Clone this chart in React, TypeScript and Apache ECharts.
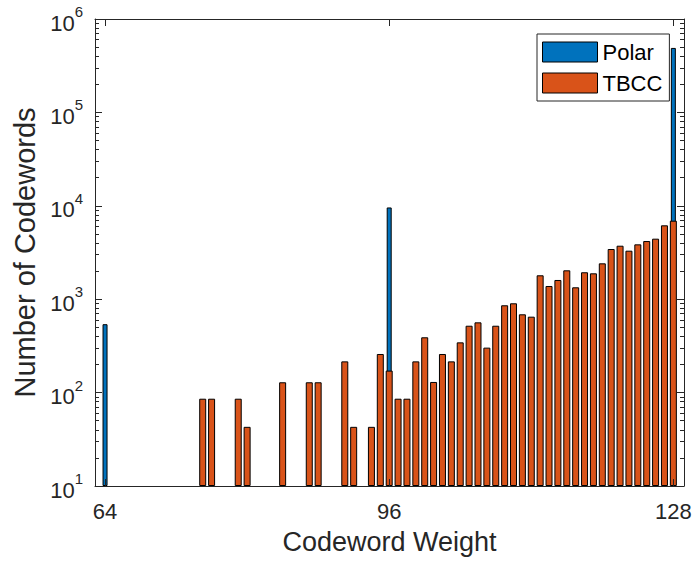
import React, { useEffect, useRef } from "react";
import * as echarts from "echarts";

const xTicks = [64, 96, 128];
const yMinor: number[] = [];
for (let d = 10; d < 1000000; d *= 10) {
  for (let m = 2; m <= 9; m++) yMinor.push(d * m);
}

const polarWeights = [64, 96, 128];
const polarCounts = [540, 9600, 490000];

const tbccWeights = [
  75, 76, 79, 80, 84, 87, 88, 91, 92, 94, 95, 96, 97, 98, 99, 100, 101, 102,
  103, 104, 105, 106, 107, 108, 109, 110, 111, 112, 113, 114, 115, 116, 117,
  118, 119, 120, 121, 122, 123, 124, 125, 126, 127, 128,
];
const tbccCounts = [
  86, 86, 86, 43, 129, 129, 129, 216, 43, 43, 259, 172, 86, 86, 216, 391, 130,
  259, 216, 345, 520, 565, 303, 520, 861, 904, 689, 650, 1803, 1385, 1606, 2038,
  1341, 1943, 1893, 2421, 3447, 3739, 3306, 3866, 4195, 4446, 6180, 6930,
];

const FONT = "'Liberation Sans', Arial, Helvetica, sans-serif";
const AX = "#262626";

export default function App() {
  const ref = useRef<HTMLDivElement>(null);
  useEffect(() => {
    document.body.style.margin = "0";
    if (!ref.current) return;
    const chart = echarts.init(ref.current, null, { renderer: "svg" });
    const xBase = (pos: "bottom" | "top", labels: boolean) => ({
      type: "value",
      min: 62.87,
      max: 129.2,
      position: pos,
      z: 10,
      axisLine: { show: true, onZero: false, lineStyle: { color: AX, width: 1 } },
      axisTick: {
        show: true,
        inside: true,
        length: 7,
        customValues: xTicks,
        lineStyle: { color: AX, width: 1 },
      },
      axisLabel: {
        show: labels,
        customValues: xTicks,
        fontSize: 22,
        color: AX,
        fontFamily: FONT,
        margin: 14,
      },
      splitLine: { show: false },
      ...(labels
        ? {
            name: "Codeword Weight",
            nameLocation: "middle",
            nameGap: 42,
            nameTextStyle: { fontSize: 27, color: AX, fontFamily: FONT },
          }
        : {}),
    });
    const yMajorAxis = (pos: "left" | "right", labels: boolean) => ({
      type: "log",
      logBase: 10,
      min: 10,
      max: 1000000,
      interval: 1,
      startValue: 10,
      position: pos,
      z: 10,
      axisLine: { show: true, onZero: false, lineStyle: { color: AX, width: 1 } },
      axisTick: {
        show: true,
        inside: true,
        length: 7,
        lineStyle: { color: AX, width: 1 },
      },
      minorTick: { show: false },
      axisLabel: {
        show: labels,
        margin: 12,
        formatter: (v: number) => `{b|10}{s|${Math.round(Math.log10(v))}}`,
        rich: {
          b: {
            fontSize: 22,
            color: AX,
            fontFamily: FONT,
            lineHeight: 30,
            verticalAlign: "bottom",
          },
          s: {
            fontSize: 15,
            color: AX,
            fontFamily: FONT,
            lineHeight: 30,
            verticalAlign: "top",
          },
        },
      },
      splitLine: { show: false },
      ...(labels
        ? {
            name: "Number of Codewords",
            nameLocation: "middle",
            nameGap: 56,
            nameTextStyle: { fontSize: 29, color: AX, fontFamily: FONT },
          }
        : {}),
    });
    // minor ticks: a hidden linear axis in log10 space, ticks at log10 of 2..9 x decade
    const yMinorAxis = (pos: "left" | "right") => ({
      type: "value",
      min: 1,
      max: 6,
      position: pos,
      z: 10,
      axisLine: { show: false, onZero: false },
      axisTick: {
        show: true,
        inside: true,
        length: 4,
        customValues: yMinor.map((v) => Math.log10(v)),
        lineStyle: { color: AX, width: 1 },
      },
      axisLabel: { show: false },
      splitLine: { show: false },
    });
    chart.setOption({
      animation: false,
      backgroundColor: "#ffffff",
      grid: {
        left: 95,
        right: 12,
        top: 19,
        bottom: 76,
        containLabel: false,
        outerBoundsMode: "none",
      },
      legend: {
        show: true,
        orient: "vertical",
        left: 537,
        top: 34,
        z: 20,
        padding: [7, 7, 7, 5],
        itemGap: 9,
        itemWidth: 55,
        itemHeight: 20,
        icon: "rect",
        selectedMode: false,
        backgroundColor: "#ffffff",
        borderColor: AX,
        borderWidth: 1,
        borderRadius: 0,
        itemStyle: { borderColor: "#000", borderWidth: 1 },
        textStyle: { fontSize: 22, color: "#000", fontFamily: FONT, lineHeight: 20 },
        data: ["Polar", "TBCC"],
      },
      xAxis: [xBase("bottom", true), xBase("top", false)],
      yAxis: [
        yMajorAxis("left", true),
        yMinorAxis("left"),
        yMajorAxis("right", false),
        yMinorAxis("right"),
      ],
      series: [
        {
          type: "bar",
          name: "Polar",
          xAxisIndex: 0,
          yAxisIndex: 0,
          barWidth: 5,
          data: polarWeights.map((w, i) => [w, polarCounts[i]]),
          itemStyle: { color: "#0072BD", borderColor: "#000", borderWidth: 1 },
          z: 2,
        },
        {
          type: "bar",
          name: "TBCC",
          xAxisIndex: 1,
          yAxisIndex: 0,
          barWidth: 7,
          data: tbccWeights.map((w, i) => [w, tbccCounts[i]]),
          itemStyle: { color: "#D95319", borderColor: "#000", borderWidth: 1 },
          z: 3,
        },
      ],
    });
    return () => chart.dispose();
  }, []);
  return <div ref={ref} style={{ width: 696, height: 562 }} />;
}
